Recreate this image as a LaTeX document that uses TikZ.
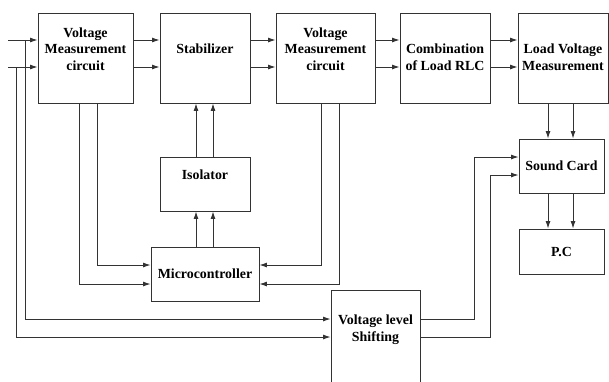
\documentclass[tikz,border=0pt]{standalone}
\usepackage{fontspec}
\setmainfont{Liberation Serif}
\usetikzlibrary{arrows.meta}
\begin{document}
\begin{tikzpicture}[x=1pt,y=-1pt,
  box/.style={draw=black!80,line width=0.9pt,rectangle,inner sep=0pt},
  txt/.style={align=center,font=\fontsize{13.9}{16.7}\selectfont\bfseries,inner sep=0pt},
  ln/.style={draw=black!80,line width=0.9pt},
  arr/.style={ln,-{Latex[length=7.5pt,width=5pt]}}]
\useasboundingbox (0,0) rectangle (609,381);
% boxes
\node[box,minimum width=95,minimum height=90] (vm1) at (85.5,58) {};
\node[box,minimum width=90,minimum height=90] (stab) at (205,58) {};
\node[box,minimum width=99,minimum height=90] (vm2) at (325.5,58) {};
\node[box,minimum width=90,minimum height=90] (comb) at (445,58) {};
\node[box,minimum width=90,minimum height=90] (lvm) at (563,58) {};
\node[box,minimum width=85,minimum height=54] (sc) at (561.5,166) {};
\node[box,minimum width=85,minimum height=45] (pc) at (561.5,251.5) {};
\node[box,minimum width=90,minimum height=54] (iso) at (205,184) {};
\node[box,minimum width=108,minimum height=54] (mc) at (205,274) {};
\node[box,minimum width=89,minimum height=120] (vls) at (375.5,350) {};
% texts
\node[txt] (t1) at (85.5,49) {Voltage\\Measurement\\circuit};
\node[txt] (t2) at (205,49) {Stabilizer};
\node[txt] (t3) at (325.5,49) {Voltage\\Measurement\\circuit};
\node[txt] (t4) at (445,57.5) {Combination\\of Load RLC};
\node[txt] (t5) at (563,57.5) {Load Voltage\\Measurement};
\node[txt] (t6) at (561.5,166) {Sound Card};
\node[txt] (t7) at (561.5,252) {P.C};
\node[txt] (t8) at (205,175) {Isolator};
\node[txt] (t9) at (205,274) {Microcontroller};
\node[txt] (t10) at (375.5,330) {Voltage level\\Shifting};
% helper coordinates
\coordinate (in1) at (8,40);
\coordinate (in2) at (8,67);
\coordinate (b1) at (25,319);
\coordinate (b2) at (16,337);
\coordinate (k1) at (97,265);
\coordinate (k2) at (79,284);
\coordinate (k3) at (321,265);
\coordinate (k4) at (339,284);
\coordinate (m1) at (196,0);
\coordinate (m2) at (213,0);
\coordinate (s1) at (548,0);
\coordinate (s2) at (573,0);
\coordinate (q1) at (474,157);
\coordinate (q2) at (490,175);
% inputs
\draw[arr] (in1) -- (vm1.west |- in1);
\draw[arr] (in2) -- (vm1.west |- in2);
\draw[arr] (b1 |- in1) -- (b1) -- (vls.west |- b1);
\draw[arr] (b2 |- in2) -- (b2) -- (vls.west |- b2);
% top row
\foreach \a/\b in {vm1/stab,stab/vm2,vm2/comb,comb/lvm}{
  \draw[arr] (\a.east |- in1) -- (\b.west |- in1);
  \draw[arr] (\a.east |- in2) -- (\b.west |- in2);
}
% to microcontroller
\draw[arr] (vm1.south -| k1) |- (mc.west |- k1);
\draw[arr] (vm1.south -| k2) |- (mc.west |- k2);
\draw[arr] (vm2.south -| k3) |- (mc.east |- k3);
\draw[arr] (vm2.south -| k4) |- (mc.east |- k4);
% micro -> isolator -> stabilizer
\draw[arr] (mc.north -| m1) -- (iso.south -| m1);
\draw[arr] (mc.north -| m2) -- (iso.south -| m2);
\draw[arr] (iso.north -| m1) -- (stab.south -| m1);
\draw[arr] (iso.north -| m2) -- (stab.south -| m2);
% load voltage -> sound card -> pc
\draw[arr] (lvm.south -| s1) -- (sc.north -| s1);
\draw[arr] (lvm.south -| s2) -- (sc.north -| s2);
\draw[arr] (sc.south -| s1) -- (pc.north -| s1);
\draw[arr] (sc.south -| s2) -- (pc.north -| s2);
% level shifter -> sound card
\draw[arr] (vls.east |- b1) -| (q1) -- (sc.west |- q1);
\draw[arr] (vls.east |- b2) -| (q2) -- (sc.west |- q2);
\end{tikzpicture}
\end{document}
